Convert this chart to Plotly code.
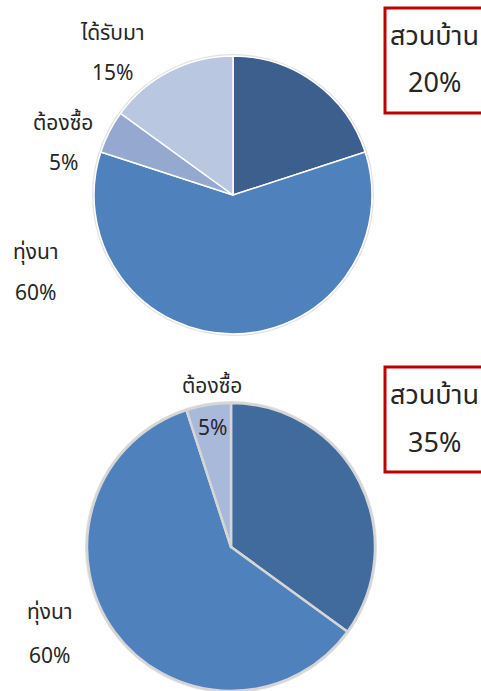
import plotly.graph_objects as go

# Top pie: sources of supply (first group)
top_labels = ["สวนบ้าน", "ทุ่งนา", "ต้องซื้อ", "ได้รับมา"]
top_values = [20, 60, 5, 15]
top_colors = ["#3D5F8E", "#4F81BD", "#95A9D0", "#B9C7E1"]

# Bottom pie: sources of supply (second group)
bot_labels = ["สวนบ้าน", "ทุ่งนา", "ต้องซื้อ"]
bot_values = [35, 60, 5]
bot_colors = ["#416B9D", "#4F81BD", "#A8B9DA"]

W, H = 481, 691
FONT = "Tahoma, 'Noto Sans Thai', 'Noto Sans', 'DejaVu Sans', sans-serif"
TXT = "#262626"


def px_x(v):
    return v / W


def px_y(v):
    return 1 - v / H


fig = go.Figure()

# top pie: centre (233,195), radius 139
fig.add_trace(go.Pie(
    labels=top_labels, values=top_values, sort=False, direction="clockwise",
    rotation=0, textinfo="none", hoverinfo="label+percent", showlegend=False,
    marker=dict(colors=top_colors, line=dict(color="white", width=1.5)),
    domain=dict(x=[px_x(94), px_x(372)], y=[px_y(334), px_y(56)]),
))

# bottom pie: centre (231,547), radius 144
fig.add_trace(go.Pie(
    labels=bot_labels, values=bot_values, sort=False, direction="clockwise",
    rotation=0, textinfo="none", hoverinfo="label+percent", showlegend=False,
    marker=dict(colors=bot_colors, line=dict(color="#D6D6D6", width=2.5)),
    domain=dict(x=[px_x(87), px_x(375)], y=[0, px_y(403)]),
))

shapes = []
# soft outer rims
for cx, cy, r in [(233, 195, 139), (231, 547, 144)]:
    shapes.append(dict(type="circle", xref="paper", yref="paper", layer="below",
                       x0=px_x(cx - r - 1), x1=px_x(cx + r + 1),
                       y0=px_y(cy + r + 1), y1=px_y(cy - r - 1),
                       line=dict(color="#E2E2E2", width=2), fillcolor="rgba(0,0,0,0)"))

# red callout boxes
for y0, y1 in [(8, 113), (367, 472)]:
    shapes.append(dict(type="rect", xref="paper", yref="paper",
                       x0=px_x(385), x1=px_x(484), y0=px_y(y1), y1=px_y(y0),
                       line=dict(color="#C00000", width=3), fillcolor="white"))

annotations = []


def label(text, x, y, size=21):
    annotations.append(dict(text=text, x=px_x(x), y=px_y(y), xref="paper", yref="paper",
                            showarrow=False, xanchor="center", yanchor="middle",
                            font=dict(family=FONT, size=size, color=TXT)))


def pct(v):
    return f"{v}%"


# top pie labels
label(top_labels[3], 112, 33)
label(pct(top_values[3]), 112, 73)
label(top_labels[2], 63, 124)
label(pct(top_values[2]), 63, 163)
label(top_labels[1], 35, 252)
label(pct(top_values[1]), 35, 293)
label(top_labels[0], 434, 36, size=27)
label(pct(top_values[0]), 434, 84, size=27)

# bottom pie labels
label(bot_labels[2], 212, 386)
label(pct(bot_values[2]), 212, 428)
label(bot_labels[1], 49, 612)
label(pct(bot_values[1]), 49, 656)
label(bot_labels[0], 434, 395, size=27)
label(pct(bot_values[0]), 434, 443, size=27)

fig.update_layout(
    width=W, height=H, margin=dict(l=0, r=0, t=0, b=0),
    paper_bgcolor="white", plot_bgcolor="white",
    shapes=shapes, annotations=annotations,
)

fig.write_html("out.html")
